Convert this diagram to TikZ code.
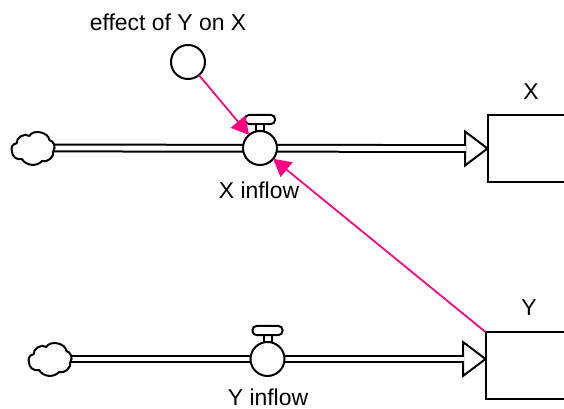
\documentclass[tikz,border=0pt]{standalone}
\usepackage{fontspec}
\setmainfont{Liberation Sans}
\usetikzlibrary{arrows.meta,calc}
\definecolor{linkpink}{RGB}{255,0,128}
\tikzset{
  outline/.style={draw=black,line width=1.5pt},
  valvebody/.style={outline,circle,fill=white,minimum size=25.5pt,inner sep=0pt,outer sep=0pt},
  auxvar/.style={valvebody},
  handle/.style={outline,rounded corners=3pt,fill=white,minimum width=22.5pt,minimum height=6.8pt,inner sep=0pt,outer sep=0pt},
  stem/.style={outline,fill=white,minimum width=6pt,minimum height=6pt,inner sep=0pt,outer sep=0pt},
  stock/.style={outline,minimum width=105pt,minimum height=50pt,inner sep=0pt,outer sep=0pt,fill=white},
  pipe/.style={draw=black,line width=1.5pt,double=white,double distance=3.6pt},
  head/.style={outline,fill=white,line join=miter},
  link/.style={draw=linkpink,line width=1.3pt,-{Triangle[length=13pt,width=14pt]}},
  lab/.style={font=\fontsize{17.2pt}{20pt}\selectfont,inner sep=0pt},
  pics/puffcloud/.style={code={
    \draw[outline,fill=white,line join=round]
      (-16.3,-4.7) to[bend left=70] (-3.7,-12) to[bend left=75] (16.3,-8)
      to[bend left=60] (20.3,3) to[bend left=60] (9,13) to[bend left=55] (-11,11)
      to[bend left=60] (-21,3) to[bend left=60] cycle;
  }}
}
\begin{document}
\begin{tikzpicture}[x=0.75pt,y=-0.75pt]
\useasboundingbox (0,0) rectangle (564,409);
\clip (0,0) rectangle (564,409);
% stocks
\node[stock,anchor=west] (sx) at (487.5,148.5) {};
\node[stock,anchor=north west] (sy) at (485.5,332) {};
% cloud centres
\coordinate (cx) at (33,148);
\coordinate (cy) at (50,359);
% flow ends
\coordinate (ax) at (sx.west);
\coordinate (ay) at (485.5,359);
\coordinate (bx) at (465,148.5);
\coordinate (by) at (463,359);
% valves
\coordinate (vxp) at (260,148);
\coordinate (vyp) at (267.5,359);
\draw[head] ($(bx)+(0,-17)$) -- (ax) -- ($(bx)+(0,17)$) -- cycle;
\draw[head] ($(by)+(0,-17)$) -- (ay) -- ($(by)+(0,17)$) -- cycle;
\draw[pipe] (cx) -- ($(bx)+(1,0)$);
\draw[pipe] (cy) -- ($(by)+(1,0)$);
\pic at (cx) {puffcloud};
\pic at (cy) {puffcloud};
\node[stem] (tx) at (260,127) {};
\node[stem] (ty) at (267.5,338) {};
\node[handle] (hx) at (260,119.5) {};
\node[handle] (hy) at (267.5,330.5) {};
\node[valvebody] (vx) at (vxp) {};
\node[valvebody] (vy) at (vyp) {};
\node[auxvar] (aux) at (188,62) {};
% links
\draw[link] (aux) -- (vx);
\draw[link] (sy.north west) -- (vx);
% labels
\node[lab] (l1) at (168,22) {effect of Y on X};
\node[lab] (l2) at (531,92) {X};
\node[lab] (l3) at (529,308) {Y};
\node[lab] (l4) at (259,190) {X inflow};
\node[lab] (l5) at (268,397) {Y inflow};
\end{tikzpicture}
\end{document}
